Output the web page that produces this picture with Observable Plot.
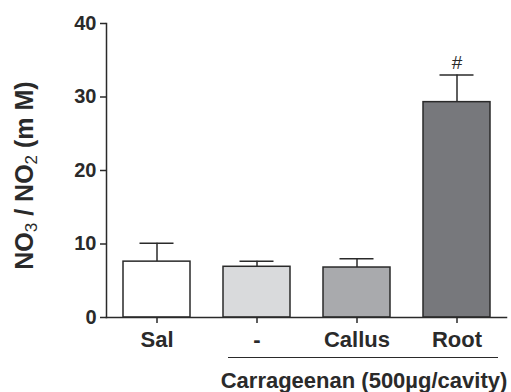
<!DOCTYPE html>
<html>
<head>
<meta charset="utf-8">
<script src="https://cdn.jsdelivr.net/npm/d3@7"></script>
<script src="https://cdn.jsdelivr.net/npm/@observablehq/plot@0.6"></script>
<style>
  html, body { margin: 0; padding: 0; background: #fff; }
  svg { display: block; }
</style>
</head>
<body>
<div id="chart"></div>
<script>
const categories = ["Sal", "-", "Callus", "Root"];
const means = [7.6, 6.9, 6.8, 29.3];
const sems = [2.5, 0.75, 1.2, 3.7];
const fills = ["#ffffff", "#d9dadc", "#a9aaad", "#77787c"];
const yTicks = [0, 10, 20, 30, 40];
const groupLabel = "Carrageenan (500µg/cavity)";
const groupFrom = "-";
const groupTo = "Root";
const significance = ["", "", "", "#"];
const yLabel = "NO3 / NO2 (m M)";

const data = categories.map((c, i) => ({
  cat: c, value: means[i], upper: means[i] + sems[i], fill: fills[i], sig: significance[i]
}));

const ink = "#2a2a2a";

const plot = Plot.plot({
  width: 511,
  height: 392,
  marginLeft: 106,
  marginRight: 5,
  marginTop: 23,
  marginBottom: 75,
  style: { fontFamily: "'Liberation Sans', Arial, sans-serif", color: ink, background: "#fff", overflow: "visible" },
  x: { domain: categories, paddingInner: 1/3, paddingOuter: 1/6, label: null },
  y: { domain: [0, 40], label: null },
  marks: [
    Plot.ruleX(data, { x: "cat", y1: "value", y2: "upper", stroke: ink, strokeWidth: 1.5 }),
    Plot.tickY(data, { x: "cat", y: "upper", stroke: ink, strokeWidth: 1.5, insetLeft: 16.5, insetRight: 16.5 }),
    Plot.barY(data, { x: "cat", y: "value", fill: "fill", stroke: ink, strokeWidth: 1.5 }),
    Plot.frame({ anchor: "left", stroke: ink, strokeWidth: 1.5 }),
    Plot.frame({ anchor: "bottom", stroke: ink, strokeWidth: 1.5 }),
    Plot.axisY({ ticks: yTicks, tickSize: 6, tickPadding: 4, fontSize: 20, fontWeight: "bold", stroke: ink, strokeWidth: 1.5, fill: ink, label: null }),
    Plot.axisX({ tickSize: 6, tickPadding: 8, fontSize: 22, fontWeight: "bold", stroke: ink, strokeWidth: 1.5, fill: ink, label: null }),
    Plot.text(data, { x: "cat", y: "upper", text: "sig", dy: -12, fontSize: 19, fill: ink }),
    Plot.ruleY([{ x1: groupFrom, x2: groupTo, y: 0 }], { x1: "x1", x2: "x2", y: "y", dy: 40, insetLeft: 5, insetRight: -8, stroke: ink, strokeWidth: 1.2 }),
    Plot.text([groupLabel], { x: () => "Callus", y: () => 0, text: d => d, dx: 7, dy: 63, fontSize: 22, fontWeight: "bold", fill: ink }),
    Plot.text([yLabel], { text: d => d, frameAnchor: "left", textAnchor: "middle", dx: -82, dy: 5, rotate: -90, fontSize: 25, fontWeight: "bold", fill: ink })
  ]
});

document.getElementById("chart").appendChild(plot);

// Subscripts in the y label
d3.select(plot).selectAll("text").each(function() {
  const t = d3.select(this);
  if (t.text() === yLabel) {
    t.text(null);
    const parts = [["NO", false], ["3", true], [" / NO", false], ["2", true], [" (m M)", false]];
    parts.forEach(([s, sub]) => {
      const ts = t.append("tspan").text(s);
      if (sub) ts.attr("font-size", "17px").attr("baseline-shift", "-22%").attr("font-weight", "normal");
    });
  }
});
</script>
</body>
</html>
